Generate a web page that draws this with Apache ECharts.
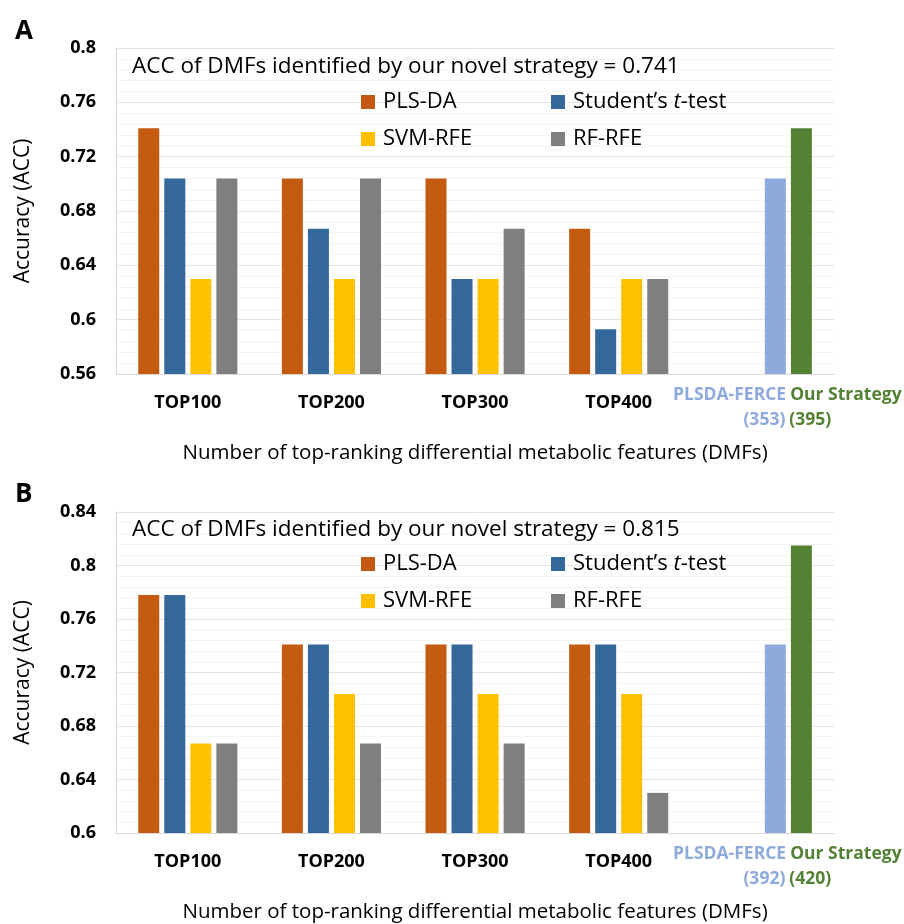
<!DOCTYPE html>
<html>
<head>
<meta charset="utf-8">
<script src="https://cdn.jsdelivr.net/npm/echarts@6/dist/echarts.min.js"></script>
<style>html,body{margin:0;padding:0;background:#fff}#c{width:904px;height:924px}</style>
</head>
<body>
<div id="c"></div>
<script>
// ---------- data ----------
const categories = ['TOP100', 'TOP200', 'TOP300', 'TOP400', 'STRATEGY'];
const seriesNames = ['PLS-DA', 'Student\u2019s t-test', 'SVM-RFE', 'RF-RFE'];

// Panel A
const plsdaA = [0.741, 0.704, 0.704, 0.667];
const ttestA = [0.704, 0.667, 0.630, 0.593];
const svmA   = [0.630, 0.630, 0.630, 0.630];
const rfA    = [0.704, 0.704, 0.667, 0.630];
const ferceA = 0.704, oursA = 0.741;
const ferceCountA = 353, oursCountA = 395;
const yTicksA = [0.56, 0.8];

// Panel B
const plsdaB = [0.778, 0.741, 0.741, 0.741];
const ttestB = [0.778, 0.741, 0.741, 0.741];
const svmB   = [0.667, 0.704, 0.704, 0.704];
const rfB    = [0.667, 0.667, 0.667, 0.630];
const ferceB = 0.741, oursB = 0.815;
const ferceCountB = 392, oursCountB = 420;
const yTicksB = [0.6, 0.84];

const titleA = 'ACC of DMFs identified by our novel strategy = 0.741';
const titleB = 'ACC of DMFs identified by our novel strategy = 0.815';
const xName = 'Number of top-ranking differential metabolic features (DMFs)';
const yName = 'Accuracy (ACC)';

// ---------- style ----------
const FONT = 'Open Sans';
const colors = ['#C55A11', '#34689A', '#FFC000', '#7F7F7F'];
const ferceColor = '#8EA9DB';
const oursColor = '#548235';

function buildPanel(idx, grid, yr, vals, ferce, ours, fc, oc) {
  const xAxis = {
    type: 'category', gridIndex: idx, data: categories,
    axisLine: {lineStyle: {color: '#d9d9d9', width: 1}},
    axisTick: {show: false},
    axisLabel: {
      interval: 0, margin: 9, fontFamily: FONT, fontWeight: 'bold', fontSize: 18, color: '#000',
      lineHeight: 39,
      formatter: function (v, i) {
        if (i === 4) return '{s| }{a|PLSDA-FERCE}{g| }{b|Our Strategy}\n{s| }{a|(' + fc + ')}{g| }{b|(' + oc + ')}';
        return v;
      },
      rich: {
        s: {width: 50, fontSize: 17.5, lineHeight: 25},
        g: {width: 4, fontSize: 17.5, lineHeight: 25},
        a: {color: ferceColor, fontFamily: FONT, fontWeight: 'bold', fontSize: 17.5, lineHeight: 25},
        b: {color: oursColor, fontFamily: FONT, fontWeight: 'bold', fontSize: 17.5, lineHeight: 25}
      }
    },
    name: xName, nameLocation: 'middle', nameGap: 69,
    nameTextStyle: {fontFamily: FONT, fontSize: 20.5, color: '#000'}
  };
  const yAxis = {
    type: 'value', gridIndex: idx, min: yr[0], max: yr[1], interval: 0.04,
    axisLine: {show: true, lineStyle: {color: '#d9d9d9'}},
    axisTick: {show: false},
    axisLabel: {fontFamily: FONT, fontWeight: 'bold', fontSize: 18, color: '#000', margin: 20,
      formatter: v => String(+v.toFixed(2))},
    splitLine: {lineStyle: {color: '#e4e4e4'}},
    minorTick: {show: false, splitNumber: 5},
    minorSplitLine: {show: true, lineStyle: {color: '#f4f4f4'}},
    name: yName, nameLocation: 'middle', nameGap: 82,
    nameTextStyle: {fontFamily: FONT, fontSize: 21, color: '#000'}
  };
  const series = vals.map((arr, k) => {
    const data = arr.slice();
    if (k === 2) data.push({value: ferce, itemStyle: {color: ferceColor}});
    else if (k === 3) data.push({value: ours, itemStyle: {color: oursColor}});
    else data.push(null);
    return {
      type: 'bar', name: seriesNames[k], xAxisIndex: idx, yAxisIndex: idx,
      data: data, barWidth: 21, barGap: '24%',
      itemStyle: {color: colors[k]}
    };
  });
  return {grid, xAxis, yAxis, series};
}

const pA = buildPanel(0, {left: 116, right: 64, top: 48, bottom: 550}, yTicksA,
  [plsdaA, ttestA, svmA, rfA], ferceA, oursA, ferceCountA, oursCountA);
const pB = buildPanel(1, {left: 116, right: 64, top: 512, bottom: 87}, yTicksB,
  [plsdaB, ttestB, svmB, rfB], ferceB, oursB, ferceCountB, oursCountB);

function legend(top, left, names) {
  return {
    orient: 'vertical', top: top, left: left, data: names, padding: 0,
    itemWidth: 14, itemHeight: 14, itemGap: 13, icon: 'rect', itemStyle: {borderWidth: 0},
    selectedMode: false,
    textStyle: {fontFamily: FONT, fontSize: 22, color: '#000', lineHeight: 24, padding: [0, 0, 0, 3],
      rich: {i: {fontFamily: FONT, fontSize: 22, fontStyle: 'italic', color: '#000', lineHeight: 24}}},
    formatter: n => n === seriesNames[1] ? 'Student\u2019s {i|t}-test' : n
  };
}

const option = {
  animation: false,
  title: [
    {text: 'A', left: 10, top: 14, textStyle: {fontFamily: FONT, fontSize: 26, fontWeight: 'bold', color: '#000'}},
    {text: 'B', left: 10, top: 477, textStyle: {fontFamily: FONT, fontSize: 26, fontWeight: 'bold', color: '#000'}},
    {text: titleA, left: 132, top: 55, padding: 0, textStyle: {fontFamily: FONT, fontSize: 22.5, fontWeight: 'normal', color: '#000'}},
    {text: titleB, left: 132, top: 518, padding: 0, textStyle: {fontFamily: FONT, fontSize: 22.5, fontWeight: 'normal', color: '#000'}}
  ],
  legend: [
    legend(90, 361, [seriesNames[0], seriesNames[2]]),
    legend(90, 551, [seriesNames[1], seriesNames[3]]),
    legend(552, 361, [seriesNames[0], seriesNames[2]]),
    legend(552, 551, [seriesNames[1], seriesNames[3]])
  ],
  grid: [pA.grid, pB.grid],
  xAxis: [pA.xAxis, pB.xAxis],
  yAxis: [pA.yAxis, pB.yAxis],
  series: pA.series.concat(pB.series)
};

const chart = echarts.init(document.getElementById('c'), null, {renderer: 'canvas'});
chart.setOption(option);
</script>
</body>
</html>
